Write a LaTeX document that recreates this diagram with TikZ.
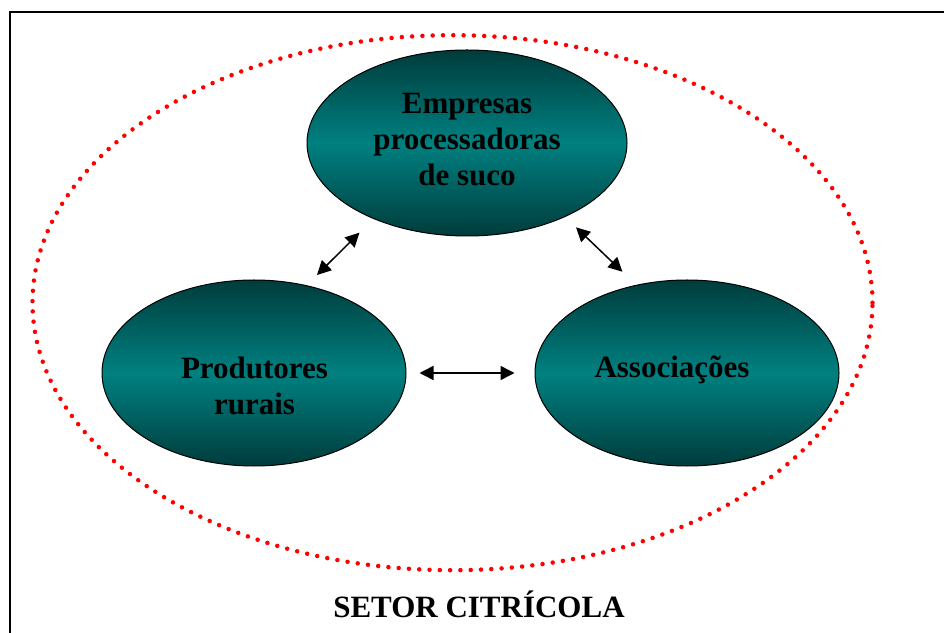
\documentclass[tikz,border=0pt]{standalone}
\usepackage{fontspec}
\setmainfont{Liberation Serif}
\usetikzlibrary{shapes.geometric,arrows.meta,positioning}
\definecolor{tealdark}{RGB}{0,60,60}
\definecolor{tealmid}{RGB}{0,128,128}

\begin{document}
\begin{tikzpicture}[x=1pt, y=1pt,
    agent/.style={ellipse, draw=black, line width=1pt, inner sep=0pt,
      minimum height=186pt, top color=tealdark, bottom color=tealdark,
      middle color=tealmid},
    lbl/.style={font=\fontsize{31}{36}\selectfont\bfseries, align=center},
    link/.style={{Triangle[length=14pt,width=14pt]}-{Triangle[length=14pt,width=14pt]},
      line width=1.5pt}]
    \useasboundingbox (0,0) rectangle (944,632);
    \clip (0,0) rectangle (944,632);
    \draw[line width=2pt] (9.5,-20) rectangle (970,620);

    \draw[red, line width=4.5pt, line cap=round, dash pattern=on 0pt off 10.3pt]
      (452.5,329.3) ellipse [x radius=420, y radius=267.5];

    \node[agent, minimum width=320pt] (empresas) at (467,489) {};
    \node[agent, minimum width=304pt] (produtores) at (254,259) {};
    \node[agent, minimum width=304pt] (assoc) at (687,259) {};

    \node[lbl] (empresaslbl) at (467,492) {Empresas\\processadoras\\de suco};
    \node[lbl] (produtoreslbl) at (254.5,246) {Produtores\\rurais};
    \node[lbl, anchor=base] (assoclbl) at (672,254) {Associações};

    \draw[link, shorten <=14.5pt, shorten >=19.5pt] (produtores.59) -- (empresas.219);
    \draw[link, shorten <=15pt, shorten >=19pt] (empresas.323) -- (assoc.120);
    \draw[link, shorten <=13pt, shorten >=20pt] (produtores.east) -- (assoc.west);

    \node[lbl, anchor=base] (setor) at (479,15) {SETOR CITRÍCOLA};
  \end{tikzpicture}
\end{document}
